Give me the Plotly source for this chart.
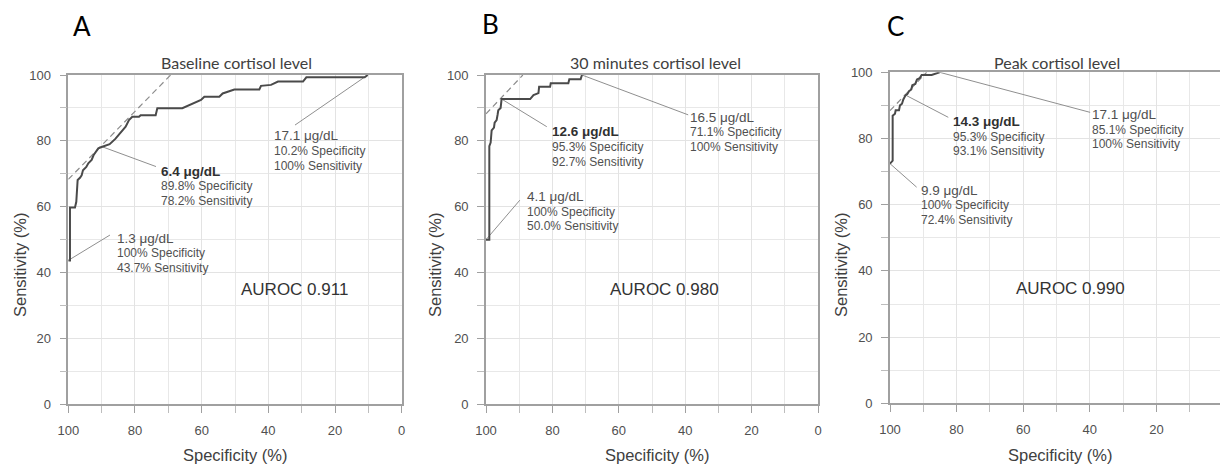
import plotly.graph_objects as go

# ---------------- data ----------------
panel_letters = ["A", "B", "C"]
panel_titles = ["Baseline cortisol level", "30 minutes cortisol level", "Peak cortisol level"]
auroc_values = ["0.911", "0.980", "0.990"]
x_tick_values = [100, 80, 60, 40, 20, 0]
y_tick_values = [0, 20, 40, 60, 80, 100]

# ROC curve A (specificity %, sensitivity %)
A_spec = [100, 99.5, 99.5, 98.0, 97.6, 97.2, 96.5, 96.0, 95.6, 94.6, 94.0, 93.0, 92.4,
          91.7, 91.0, 89.8, 87.6, 85.9, 84.3, 82.8, 81.8, 80.8, 78.8, 78.3, 73.8, 73.3,
          65.8, 62.7, 60.2, 59.2, 54.7, 53.7, 50.2, 42.7, 42.2, 39.2, 37.1, 29.6, 28.6,
          11.1, 10.2]
A_sens = [43.7, 43.7, 59.8, 59.8, 61.5, 68.1, 68.8, 69.5, 71.1, 72.1, 73.2, 74.2, 75.7,
          76.7, 77.7, 78.2, 79.0, 80.6, 82.5, 84.3, 86.3, 87.3, 87.3, 87.8, 87.8, 89.9,
          89.9, 91.4, 92.4, 93.4, 93.4, 94.4, 95.6, 95.6, 96.7, 97.0, 98.0, 98.0, 99.3,
          99.3, 100]
A_tan_spec = [100, 69.3]
A_tan_sens = [68.3, 100]

# ROC curve B
B_spec = [100, 99.0, 99.0, 98.6, 98.3, 97.6, 97.4, 96.8, 96.5, 96.3, 95.6, 95.4, 95.3,
          86.7, 85.7, 84.2, 84.0, 80.7, 80.5, 75.2, 74.9, 71.5, 71.1]
B_sens = [50.0, 50.0, 78.4, 79.5, 83.2, 84.0, 85.5, 86.3, 88.0, 89.3, 90.0, 92.0, 92.7,
          92.7, 93.9, 94.5, 96.4, 96.4, 97.5, 97.5, 98.7, 98.7, 100]
B_tan_spec = [100, 88.9]
B_tan_sens = [88.2, 100]

# ROC curve C
C_spec = [100, 99.2, 99.2, 98.5, 98.3, 97.3, 97.0, 96.4, 96.0, 95.3, 94.8, 94.3, 93.6,
          93.3, 92.4, 91.9, 91.1, 90.5, 87.5, 86.5, 85.1]
C_sens = [72.4, 73.3, 86.9, 87.5, 88.5, 88.5, 90.0, 90.5, 91.8, 93.1, 93.4, 94.3, 94.8,
          96.1, 96.5, 97.8, 98.2, 99.2, 99.2, 99.6, 100]
C_tan_spec = [100, 89.0]
C_tan_sens = [88.4, 100]

# labelled cut-offs: concentration, specificity %, sensitivity %
A_cut_conc = ["1.3", "6.4", "17.1"]
A_cut_spec = [100, 89.8, 10.2]
A_cut_sens = [43.7, 78.2, 100]
B_cut_conc = ["4.1", "12.6", "16.5"]
B_cut_spec = [100, 95.3, 71.1]
B_cut_sens = [50.0, 92.7, 100]
C_cut_conc = ["9.9", "14.3", "17.1"]
C_cut_spec = [100, 95.3, 85.1]
C_cut_sens = [72.4, 93.1, 100]
optimal_index = 1  # bold label

# ---------------- layout config (positions, not data) ----------------
W, H = 1220, 466
# label text positions (data coords): left x, first-line y, leader end x, leader end y
A_lab_pos = [(86.0, 50.5, 87.5, 51.4), (72.8, 70.8, 73.7, 72.2), (38.9, 81.5, 32.0, 84.8)]
B_lab_pos = [(88.3, 63.0, 89.8, 62.0), (80.7, 82.7, 81.7, 84.3), (39.2, 87.2, 39.1, 87.9)]
C_lab_pos = [(91.3, 64.3, 92.0, 65.3), (81.7, 85.1, 82.5, 86.4), (39.9, 87.2, 39.9, 87.9)]
line_gap = 4.5  # data units between text lines
auroc_pos = [(32.3, 35.0), (46.1, 35.0), (45.9, 34.8)]

x_domains = [[68.3 / W, 401.7 / W], [486 / W, 818 / W], [890 / W, 1.0]]
y_domains = [[(H - 404.3) / H, (H - 75) / H], [(H - 404.3) / H, (H - 75) / H],
             [(H - 403.3) / H, (H - 72.3) / H]]
x_ranges = [[100, 0], [100, 0], [100, 100 - 330 / 3.33]]
letter_px = [(82, 26), (490, 24), (895, 26)]
title_px = [(236, 63), (655, 63), (1057, 62)]
xtitle_px = [(235, 455), (657, 455), (1060, 455)]
ytitle_px = [(20, 265), (435, 265), (841, 265)]

ARIAL = "Liberation Sans, Arial, sans-serif"
CAL = "Lato, Carlito, Calibri, sans-serif"
CURVE = "#4a4a4a"
TXT = "#505050"

panels = [
    (A_spec, A_sens, A_tan_spec, A_tan_sens, A_cut_conc, A_cut_spec, A_cut_sens, A_lab_pos),
    (B_spec, B_sens, B_tan_spec, B_tan_sens, B_cut_conc, B_cut_spec, B_cut_sens, B_lab_pos),
    (C_spec, C_sens, C_tan_spec, C_tan_sens, C_cut_conc, C_cut_spec, C_cut_sens, C_lab_pos),
]

fig = go.Figure()
annotations = []
layout = {}

for i, (sp, se, tsp, tse, conc, csp, cse, lpos) in enumerate(panels):
    n = "" if i == 0 else str(i + 1)
    xa, ya = "x" + n, "y" + n
    # tangent (dashed)
    fig.add_trace(go.Scatter(x=tsp, y=tse, mode="lines", xaxis=xa, yaxis=ya,
                             line=dict(color="#8c8c8c", width=1.2, dash="6px,4px"),
                             hoverinfo="skip", showlegend=False))
    # leader lines
    for k in range(3):
        lx, ly, ex, ey = lpos[k]
        fig.add_trace(go.Scatter(x=[csp[k], ex], y=[cse[k], ey], mode="lines",
                                 xaxis=xa, yaxis=ya,
                                 line=dict(color="#8f8f8f", width=1),
                                 hoverinfo="skip", showlegend=False))
    # ROC curve
    fig.add_trace(go.Scatter(x=sp, y=se, mode="lines", xaxis=xa, yaxis=ya,
                             line=dict(color=CURVE, width=2),
                             showlegend=False))
    # labels
    for k in range(3):
        lx, ly, ex, ey = lpos[k]
        first = f"{conc[k]} μg/dL"
        if k == optimal_index:
            first = f"<b>{first}</b>"
        lines = [first, f"{csp[k]:g}% Specificity" if csp[k] != 100 else "100% Specificity",
                 f"{cse[k]:.1f}% Sensitivity" if cse[k] != 100 else "100% Sensitivity"]
        for j, t in enumerate(lines):
            annotations.append(dict(
                x=lx, y=ly - j * line_gap, xref=xa, yref=ya, text=t, showarrow=False,
                xanchor="left", yanchor="middle",
                font=dict(family=ARIAL, size=13.5 if j == 0 else 12,
                          color="#303030" if (j == 0 and k == optimal_index) else TXT)))
    annotations.append(dict(x=auroc_pos[i][0], y=auroc_pos[i][1], xref=xa, yref=ya,
                            text=f"AUROC {auroc_values[i]}", showarrow=False,
                            xanchor="center", yanchor="middle",
                            font=dict(family=ARIAL, size=17, color="#333333")))
    # letters, titles, axis titles
    annotations.append(dict(x=letter_px[i][0] / W, y=1 - letter_px[i][1] / H, xref="paper",
                            yref="paper", text=panel_letters[i], showarrow=False,
                            xanchor="center", yanchor="middle",
                            font=dict(family=CAL, size=26, color="#000000")))
    annotations.append(dict(x=title_px[i][0] / W, y=1 - title_px[i][1] / H, xref="paper",
                            yref="paper", text=panel_titles[i], showarrow=False,
                            xanchor="center", yanchor="middle",
                            font=dict(family=CAL, size=16, color="#404040")))
    annotations.append(dict(x=xtitle_px[i][0] / W, y=1 - xtitle_px[i][1] / H, xref="paper",
                            yref="paper", text="Specificity (%)", showarrow=False,
                            xanchor="center", yanchor="middle",
                            font=dict(family=ARIAL, size=16.5, color="#404040")))
    annotations.append(dict(x=ytitle_px[i][0] / W, y=1 - ytitle_px[i][1] / H, xref="paper",
                            yref="paper", text="Sensitivity (%)", showarrow=False,
                            textangle=-90, xanchor="center", yanchor="middle",
                            font=dict(family=ARIAL, size=16.5, color="#404040")))

    common = dict(showgrid=True, gridcolor="#e3e3e3", gridwidth=1, automargin=False,
                  showline=True, linecolor="#a0a0a0", linewidth=1.6,
                  ticks="outside", ticklen=7, tickcolor="#a0a0a0", tickwidth=1.3,
                  tickfont=dict(family=ARIAL, size=13, color="#505050"),
                  minor=dict(dtick=10, ticks="outside", ticklen=7, tickcolor="#bdbdbd",
                             showgrid=True, gridcolor="#e8e8e8", gridwidth=1),
                  zeroline=False, fixedrange=True)
    layout["xaxis" + n] = dict(domain=x_domains[i], range=x_ranges[i], tickvals=x_tick_values,
                               anchor=ya, mirror=True, ticklabelstandoff=6, **common)
    layout["yaxis" + n] = dict(domain=y_domains[i], range=[0, 100], tickvals=y_tick_values,
                               anchor=xa, mirror=(i < 2), ticklabelstandoff=6, **common)

fig.update_layout(width=W, height=H, margin=dict(l=0, r=0, t=0, b=0, autoexpand=False),
                  plot_bgcolor="white", paper_bgcolor="white",
                  annotations=annotations, **layout)
fig.write_html("out.html", config={"displayModeBar": False},
               post_script="document.body.style.margin='0';"
                           "document.body.style.overflow='hidden';")
